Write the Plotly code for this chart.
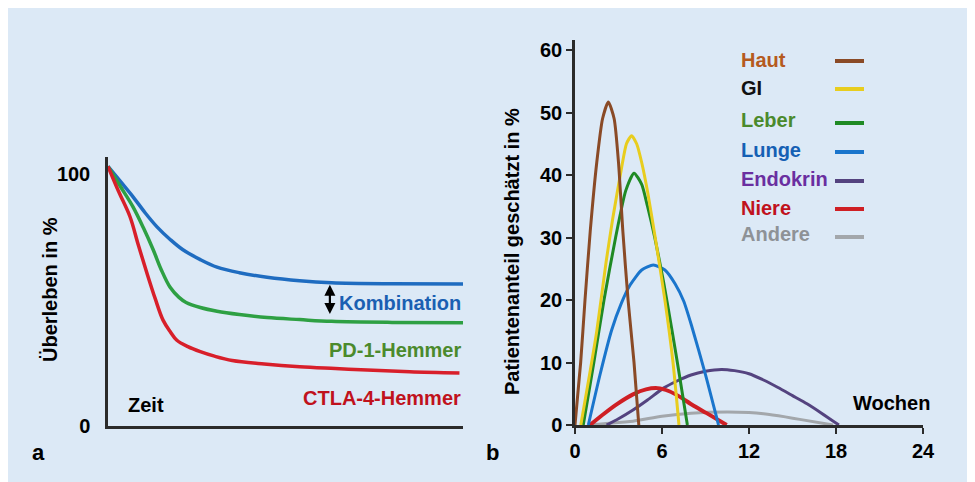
import plotly.graph_objects as go

# ---------------- Panel a data (relative time 0..10, survival %) ----------------
komb_t = [0, 0.35, 0.7, 1.05, 1.38, 1.75, 2.1, 2.6, 3.07, 3.7, 4.48, 5.4, 6.3, 8.0, 10]
komb_v = [103, 97, 91, 84.5, 79, 74, 70, 66, 63, 60.8, 59, 57.6, 56.8, 56.4, 56.3]
pd1_t = [0, 0.35, 0.7, 1.0, 1.27, 1.5, 1.75, 2.0, 2.2, 2.6, 3.07, 3.7, 4.48, 5.4, 6.3, 8.0, 10]
pd1_v = [103, 95, 87, 78.5, 70, 62, 55, 51, 49, 47, 45.5, 44.2, 43, 42.2, 41.5, 41.1, 41]
ctla_t = [0, 0.3, 0.62, 0.85, 1.1, 1.33, 1.55, 1.75, 1.94, 2.25, 2.6, 3.0, 3.5, 4.4, 5.4, 6.4, 7.3, 8.5, 9.9]
ctla_v = [103, 93, 83, 72, 60.5, 50.5, 42, 37.5, 34, 31.5, 29.5, 27.7, 26, 24.6, 23.5, 22.8, 22.2, 21.5, 21]

# ---------------- Panel b data (weeks, % patients) ----------------
haut_w = [0, 0.39, 0.69, 1.05, 1.5, 1.9, 2.3, 2.7, 3.0, 3.3, 3.66, 4.07, 4.4]
haut_v = [0, 10, 20, 31, 42, 49, 51.7, 49, 42, 31, 20, 10, 0]
gi_w = [0.4, 1.0, 1.5, 2.14, 2.6, 3.2, 3.55, 3.9, 4.25, 4.6, 5.03, 5.6, 6.2, 6.76, 7.17]
gi_v = [0, 8, 15, 26, 33, 41, 45, 46.3, 45, 42, 37, 29, 20, 10, 0]
leber_w = [0.57, 1.3, 2.0, 2.8, 3.5, 4.07, 4.6, 5.0, 5.5, 6.1, 6.7, 7.2, 7.75]
leber_v = [0, 10, 20, 30, 37.5, 40.3, 38.5, 35, 30, 23, 15, 8, 0]
lunge_w = [0.92, 1.72, 2.53, 3.2, 3.8, 4.6, 5.4, 6.2, 6.9, 7.5, 8.05, 8.97, 9.9]
lunge_v = [0, 8, 15.2, 19.5, 22.4, 24.8, 25.6, 24.8, 22.6, 19.8, 15.8, 8.3, 0]
endo_w = [2.18, 3.0, 4.0, 5.0, 6.1, 7.0, 8.0, 9.0, 10.1, 11.0, 12.0, 13.0, 14.0, 15.0, 16.0, 17.0, 18.2]
endo_v = [0, 1.0, 2.4, 4.0, 5.9, 7.0, 8.0, 8.6, 8.9, 8.7, 8.2, 7.2, 6.0, 4.7, 3.4, 1.9, 0]
niere_w = [1.03, 2.0, 2.87, 4.0, 4.9, 5.7, 6.5, 7.24, 8.1, 9.08, 10.46]
niere_v = [0, 1.8, 3.3, 4.9, 5.7, 5.9, 5.4, 4.5, 3.2, 1.9, 0]
andere_w = [1.0, 2.0, 4.0, 6.0, 8.0, 10.5, 12.0, 13.0, 14.5, 15.5, 17.8]
andere_v = [0, 0.2, 0.6, 1.4, 1.9, 2.1, 2.0, 1.8, 1.3, 0.9, 0]

legend_names = ["Haut", "GI", "Leber", "Lunge", "Endokrin", "Niere", "Andere"]
b_ticks_x = [0, 6, 12, 18, 24]
b_ticks_y = [0, 10, 20, 30, 40, 50, 60]

BG = "#dce9f6"
FONT = "Liberation Sans, Arial, sans-serif"
AXC = "#2b2b2b"

fig = go.Figure()

# Panel a curves
for t, v, c in [(komb_t, komb_v, "#1f6cc0"), (pd1_t, pd1_v, "#2ea043"), (ctla_t, ctla_v, "#d81f2a")]:
    fig.add_trace(go.Scatter(x=t, y=v, mode="lines", line=dict(color=c, width=3.5, shape="spline", smoothing=1.0),
                             xaxis="x", yaxis="y", showlegend=False, hoverinfo="skip"))

# Panel b curves
b_series = [
    (andere_w, andere_v, "#a3a7ab", 3),
    (endo_w, endo_v, "#54437f", 3),
    (niere_w, niere_v, "#cf1f24", 4),
    (lunge_w, lunge_v, "#1a75cc", 3),
    (leber_w, leber_v, "#1f8a24", 3),
    (gi_w, gi_v, "#e8cd1e", 3),
    (haut_w, haut_v, "#8a4a26", 3),
]
for w, v, c, lw in b_series:
    fig.add_trace(go.Scatter(x=w, y=v, mode="lines", line=dict(color=c, width=lw, shape="spline", smoothing=0.6),
                             xaxis="x2", yaxis="y2", showlegend=False, hoverinfo="skip"))

ann = []
def txt(text, x, y, color="black", size=20, xref="paper", yref="paper", xanchor="center", yanchor="middle", angle=0):
    ann.append(dict(text="<b>%s</b>" % text, x=x, y=y, xref=xref, yref=yref, showarrow=False,
                    xanchor=xanchor, yanchor=yanchor, textangle=angle,
                    font=dict(family=FONT, size=size, color=color)))

W, H = 975, 482
OFF = 8  # page body margin: screen pixel p maps to figure pixel p - 8
px = lambda p: (p - OFF) / W
py = lambda p: 1 - (p - OFF) / H

# Panel a labels
txt("Kombination", 10, 48.8, "#1a5fb2", xref="x", yref="y", xanchor="right")
txt("PD-1-Hemmer", 10, 30.2, "#4b8a2c", xref="x", yref="y", xanchor="right")
txt("CTLA-4-Hemmer", 10, 11.1, "#c0121c", xref="x", yref="y", xanchor="right")
txt("Zeit", 0.5, 8.3, "black", xref="x", yref="y", xanchor="left")
txt("Überleben in %", px(50), py(290), angle=-90)
txt("a", px(38), py(452), size=22)
txt("b", px(492), py(452), size=22)
# double arrow
ann.append(dict(x=6.25, y=56.0, ax=6.25, ay=43.8, xref="x", yref="y", axref="x", ayref="y",
                showarrow=True, arrowhead=2, arrowside="end+start", arrowsize=1, arrowwidth=2.2,
                arrowcolor="black", text=""))

# Panel b labels
txt("Patientenanteil geschätzt in %", px(512), py(252), angle=-90)
txt("Wochen", 21.8, 3.5, "black", xref="x2", yref="y2")

leg_text_col = ["#b55a1e", "#111111", "#4b8a2c", "#1560b4", "#6a2fa0", "#c0121c", "#8e9296"]
leg_line_col = ["#8a4a26", "#e8cd1e", "#1f8a24", "#1a75cc", "#54437f", "#cf1f24", "#a3a7ab"]
leg_text_y = [60, 88, 120, 150, 179, 208, 234]
leg_line_y = [61, 89, 123, 152, 181, 209, 237]
shapes = []
for name, tc, lc, ty, ly in zip(legend_names, leg_text_col, leg_line_col, leg_text_y, leg_line_y):
    txt(name, px(739), py(ty), tc, size=20, xanchor="left")
    shapes.append(dict(type="line", xref="paper", yref="paper", x0=px(835), x1=px(864), y0=py(ly), y1=py(ly),
                       line=dict(color=lc, width=4)))

axis_common = dict(showline=True, linecolor=AXC, linewidth=2.5, showgrid=False, zeroline=False,
                   automargin=False, tickfont=dict(family=FONT, size=20, color="black"))

fig.update_layout(
    width=W, height=H, autosize=False,
    margin=dict(l=0, r=0, t=0, b=0, pad=0),
    paper_bgcolor=BG, plot_bgcolor="rgba(0,0,0,0)",
    xaxis=dict(domain=[px(108), px(463)], range=[0, 10], anchor="y", showticklabels=False, ticks="", **axis_common),
    yaxis=dict(domain=[py(426), py(157)], range=[0, 106.7], anchor="x", tickvals=[0, 100],
               ticktext=["<b>0</b>", "<b>100</b>"], ticks="", ticklabelstandoff=11, **axis_common),
    xaxis2=dict(domain=[px(575), px(923)], range=[0, 24], anchor="y2", tickvals=b_ticks_x,
                ticktext=["<b>%d</b>" % v for v in b_ticks_x], ticks="outside", ticklen=6, tickwidth=2,
                tickcolor=AXC, **axis_common),
    yaxis2=dict(domain=[py(425), py(40)], range=[0, 61.6], anchor="x2", tickvals=b_ticks_y,
                ticktext=["<b>%d</b>" % v for v in b_ticks_y], ticks="outside", ticklen=6, tickwidth=2,
                tickcolor=AXC, **axis_common),
    annotations=ann,
    shapes=shapes,
)

fig.write_html("out.html")
